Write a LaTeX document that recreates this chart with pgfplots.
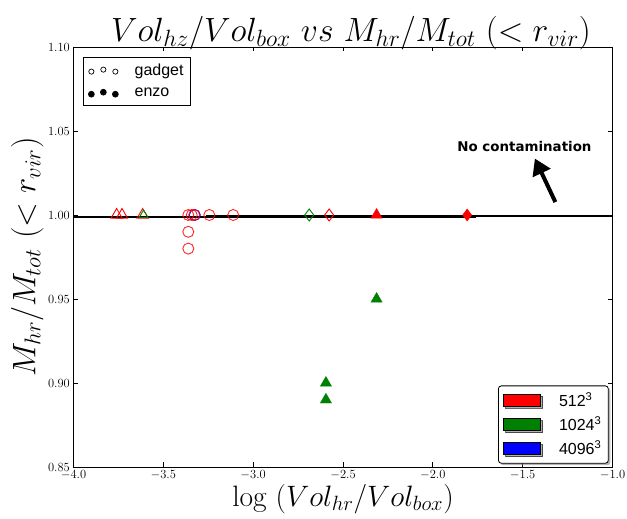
\RequirePackage{fix-cm}
\documentclass[border=0pt]{standalone}
\usepackage{pgfplots}
\pgfplotsset{compat=1.18}
\usepackage{fontspec}
\newfontfamily\legfont{Liberation Sans}
\newfontfamily\annfont{DejaVu Sans}
\usetikzlibrary{shadows,arrows.meta}
\definecolor{mgreen}{RGB}{0,128,0}
\begin{document}
\begin{tikzpicture}
\useasboundingbox (-73.5pt,-52pt) rectangle (553.5pt,467pt);
\begin{axis}[
  scale only axis, width=539pt, height=420pt,
  xmin=-4, xmax=-1, ymin=0.85, ymax=1.10,
  xtick={-4,-3.5,-3,-2.5,-2,-1.5,-1},
  ytick={0.85,0.90,0.95,1.00,1.05,1.10},
  xticklabel style={/pgf/number format/fixed,/pgf/number format/fixed zerofill,/pgf/number format/precision=1, inner sep=1pt, yshift=-2.5pt},
  yticklabel style={/pgf/number format/fixed,/pgf/number format/fixed zerofill,/pgf/number format/precision=2, inner sep=1pt, xshift=-2.5pt},
  tick label style={font=\fontsize{12.5}{15}\selectfont},
  tick align=inside, xtick pos=both, ytick pos=both,
  major tick length=4.5pt, tick style={black, line width=0.8pt},
  axis line style={line width=0.8pt},
  title={$Vol_{hz}/Vol_{box}\ vs\ M_{hr}/M_{tot}\ (<r_{vir})$},
  title style={font=\fontsize{33.6}{40}\selectfont, at={(0.5,1)}, anchor=south, yshift=-12pt, xshift=8pt},
  xlabel={$\log\ (Vol_{hr}/Vol_{box})$},
  ylabel={$M_{hr}/M_{tot}\ (<r_{vir})$},
  xlabel style={font=\fontsize{29.5}{34}\selectfont},
  ylabel style={font=\fontsize{32.5}{38}\selectfont},
  legend style={at={(0.017,0.977)}, anchor=north west, draw=black, line width=0.8pt,
    font=\fontsize{16}{19}\selectfont\legfont, row sep=7pt, column sep=14pt, inner sep=5pt},
  legend cell align=left,
]
\addlegendimage{legend image code/.code={\draw[black, line width=0.7pt, fill=white] (2pt,-1pt) circle (2.6pt) (14pt,1pt) circle (2.6pt) (26pt,-1pt) circle (2.6pt);}}
\addlegendentry{gadget}
\addlegendimage{legend image code/.code={\fill[black] (2pt,-1pt) circle (2.9pt) (14pt,1pt) circle (2.9pt) (26pt,-1pt) circle (2.9pt);}}
\addlegendentry{enzo}

% reference lines
\addplot[black, line width=2pt, forget plot] coordinates {(-4,0.9988) (-1.76,0.9988)};
\addplot[black, line width=2pt, forget plot] coordinates {(-3.26,0.9994) (-1,0.9994)};

% gadget (open markers)
\addplot[only marks, mark=o, mark size=5.5pt, mark options={draw=blue, line width=0.9pt}, forget plot] coordinates {(-3.325,1.0)};
\addplot[only marks, mark=o, mark size=5.5pt, mark options={draw=red, line width=0.9pt, draw opacity=0.85}, forget plot] coordinates {
(-3.361,1.0) (-3.342,1.0) (-3.328,1.0) (-3.244,1.0) (-3.111,1.0) (-3.361,0.99) (-3.361,0.98)};
\addplot[only marks, mark=triangle, mark size=6.5pt, mark options={draw=red, line width=0.9pt}, forget plot] coordinates {
(-3.76,1.0) (-3.73,1.0) (-3.615,1.0)};
\addplot[only marks, mark=triangle, mark size=5pt, mark options={draw=mgreen, line width=0.9pt}, forget plot] coordinates {
(-3.61,1.0)};
\addplot[only marks, mark=diamond, mark size=6pt, mark options={draw=mgreen, line width=0.9pt}, forget plot] coordinates {
(-2.688,1.0)};
\addplot[only marks, mark=diamond, mark size=6pt, mark options={draw=red, line width=0.9pt}, forget plot] coordinates {
(-2.577,1.0)};

% enzo (filled markers)
\addplot[only marks, mark=triangle*, mark size=6.5pt, mark options={draw=red, fill=red}, forget plot] coordinates {(-2.313,1.0)};
\addplot[only marks, mark=diamond*, mark size=6pt, mark options={draw=red, fill=red}, forget plot] coordinates {(-1.809,1.0)};
\addplot[only marks, mark=triangle*, mark size=6.5pt, mark options={draw=mgreen, fill=mgreen}, forget plot] coordinates {
(-2.313,0.95) (-2.595,0.90) (-2.595,0.89)};

\node[font=\annfont\bfseries\fontsize{13.4}{16}\selectfont] at (axis cs:-1.49,1.0405) {No contamination};
\draw[line width=4pt, -{Triangle[width=19pt,length=16pt]}] (axis cs:-1.318,1.0077) -- (axis cs:-1.432,1.0336);
\end{axis}
\begin{axis}[
  scale only axis, width=539pt, height=420pt,
  xmin=-4, xmax=-1, ymin=0.85, ymax=1.10, hide axis,
  legend style={at={(0.993,0.008)}, anchor=south east, draw=black, line width=0.8pt,
    rounded corners=3pt, drop shadow={shadow xshift=2pt, shadow yshift=-2pt, opacity=0.6},
    font=\fontsize{16}{19}\selectfont\legfont, row sep=5pt, column sep=16pt, inner sep=5pt},
  legend cell align=left,
  legend image code/.code={\draw[#1, line width=0.6pt, sharp corners] (0pt,-6pt) rectangle (37pt,6pt);},
]
\addlegendimage{draw=black, fill=red}
\addlegendentry{512\textsuperscript{3}}
\addlegendimage{draw=black, fill=mgreen}
\addlegendentry{1024\textsuperscript{3}}
\addlegendimage{draw=black, fill=blue}
\addlegendentry{4096\textsuperscript{3}}
\end{axis}
\end{tikzpicture}
\end{document}
